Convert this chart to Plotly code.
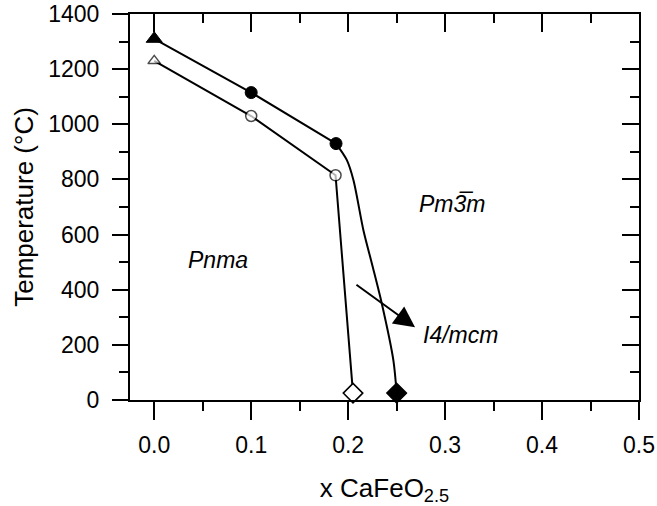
import plotly.graph_objects as go

# Upper transition (filled symbols)
x_upper = [0.0, 0.1, 0.1875]
T_upper = [1310, 1115, 930]
upper_symbols = ["triangle-up", "circle", "circle"]

# Lower transition (open symbols)
x_lower = [0.0, 0.1, 0.187, 0.205]
T_lower = [1230, 1030, 815, 25]
lower_symbols = ["triangle-up", "circle", "circle", "diamond"]

# Curved upper phase boundary
curve_x = [0.1875, 0.1987, 0.2055, 0.2158, 0.2244, 0.2347, 0.2467, 0.25]
curve_T = [930, 870, 797, 615, 496, 350, 143, 25]

# Room temperature points (diamonds)
x_rt = [0.205, 0.25]
T_rt = [25, 25]

# Phase labels
phase_labels = ["<i>Pnma</i>", "<i>Pm3\u0305m</i>", "<i>I4/mcm</i>"]
label_x = [0.066, 0.307, 0.3155]
label_T = [506, 712, 234]

# Arrow
arrow_tail = (0.207, 422)
arrow_head = (0.269, 264)

FONT = "Liberation Sans, Arial, sans-serif"

fig = go.Figure()

fig.add_trace(go.Scatter(
    x=x_lower, y=T_lower, mode="lines",
    line=dict(color="black", width=2), showlegend=False, hoverinfo="skip"))
fig.add_trace(go.Scatter(
    x=x_upper, y=T_upper, mode="lines",
    line=dict(color="black", width=2), showlegend=False, hoverinfo="skip"))
fig.add_trace(go.Scatter(
    x=curve_x, y=curve_T, mode="lines",
    line=dict(color="black", width=2, shape="spline", smoothing=0.8),
    showlegend=False, hoverinfo="skip"))

# markers
fig.add_trace(go.Scatter(
    x=x_lower[:3], y=T_lower[:3], mode="markers",
    marker=dict(symbol=lower_symbols[:3], size=[11, 11, 11], color="white",
                line=dict(color="black", width=1.5)),
    showlegend=False, cliponaxis=False))
fig.add_trace(go.Scatter(
    x=x_upper, y=T_upper, mode="markers",
    marker=dict(symbol=upper_symbols, size=[14, 12, 12], color="black",
                opacity=1, line=dict(color="black", width=1)),
    showlegend=False, cliponaxis=False))
fig.add_trace(go.Scatter(
    x=x_rt, y=T_rt, mode="markers",
    marker=dict(symbol="diamond", size=15, color=["white", "black"],
                line=dict(color="black", width=1.5)),
    showlegend=False, cliponaxis=False))

# dummy trace for mirrored axes
fig.add_trace(go.Scatter(x=[None], y=[None], xaxis="x2", yaxis="y2",
                         showlegend=False, hoverinfo="skip"))

for txt, lx, ly in zip(phase_labels, label_x, label_T):
    fig.add_annotation(x=lx, y=ly, text=txt, showarrow=False,
                       font=dict(family=FONT, size=23, color="black"))

fig.add_annotation(x=arrow_head[0], y=arrow_head[1], ax=arrow_tail[0], ay=arrow_tail[1],
                   xref="x", yref="y", axref="x", ayref="y", text="",
                   showarrow=True, arrowhead=2, arrowsize=2.1, arrowwidth=2,
                   arrowcolor="black")

common_x = dict(range=[-0.025, 0.5], showgrid=False, zeroline=False,
                showline=True, linecolor="black", linewidth=2, automargin=False)
common_y = dict(range=[0, 1400], showgrid=False, zeroline=False,
                showline=True, linecolor="black", linewidth=2, automargin=False)

fig.update_layout(
    width=657, height=506,
    margin=dict(l=130, r=18, t=14, b=106, autoexpand=False),
    plot_bgcolor="white", paper_bgcolor="white",
    font=dict(family=FONT, color="black", size=23),
    xaxis=dict(**common_x, tick0=0, dtick=0.1, tickformat=".1f",
               ticks="outside", ticklen=18, tickwidth=2, tickcolor="black",
               ticklabelstandoff=5,
               minor=dict(dtick=0.05, tick0=0, ticks="outside", ticklen=9,
                          tickwidth=2, tickcolor="black"),
               tickfont=dict(size=23),
               title=dict(text="x CaFeO<sub>2.5</sub>", font=dict(size=26),
                          standoff=25)),
    xaxis2=dict(**common_x, overlaying="x", side="top", anchor="y",
                tick0=0, dtick=0.1, ticks="inside", ticklen=18, tickwidth=2,
                tickcolor="black", showticklabels=False,
                minor=dict(dtick=0.05, tick0=0, ticks="inside", ticklen=9,
                           tickwidth=2, tickcolor="black")),
    yaxis=dict(**common_y, tick0=0, dtick=200,
               ticks="outside", ticklen=16, tickwidth=2, tickcolor="black",
               ticklabelstandoff=8,
               minor=dict(dtick=100, tick0=0, ticks="outside", ticklen=9,
                          tickwidth=2, tickcolor="black"),
               tickfont=dict(size=23),
               title=dict(text="Temperature (\u00b0C)", font=dict(size=26),
                          standoff=7)),
    yaxis2=dict(**common_y, overlaying="y", side="right", anchor="x",
                tick0=0, dtick=200, ticks="inside", ticklen=17, tickwidth=2,
                tickcolor="black", showticklabels=False,
                minor=dict(dtick=100, tick0=0, ticks="inside", ticklen=9,
                           tickwidth=2, tickcolor="black")),
)

fig.write_html("out.html", config={"displayModeBar": False},
               post_script="document.body.style.margin='0px';document.body.style.padding='0px';")
